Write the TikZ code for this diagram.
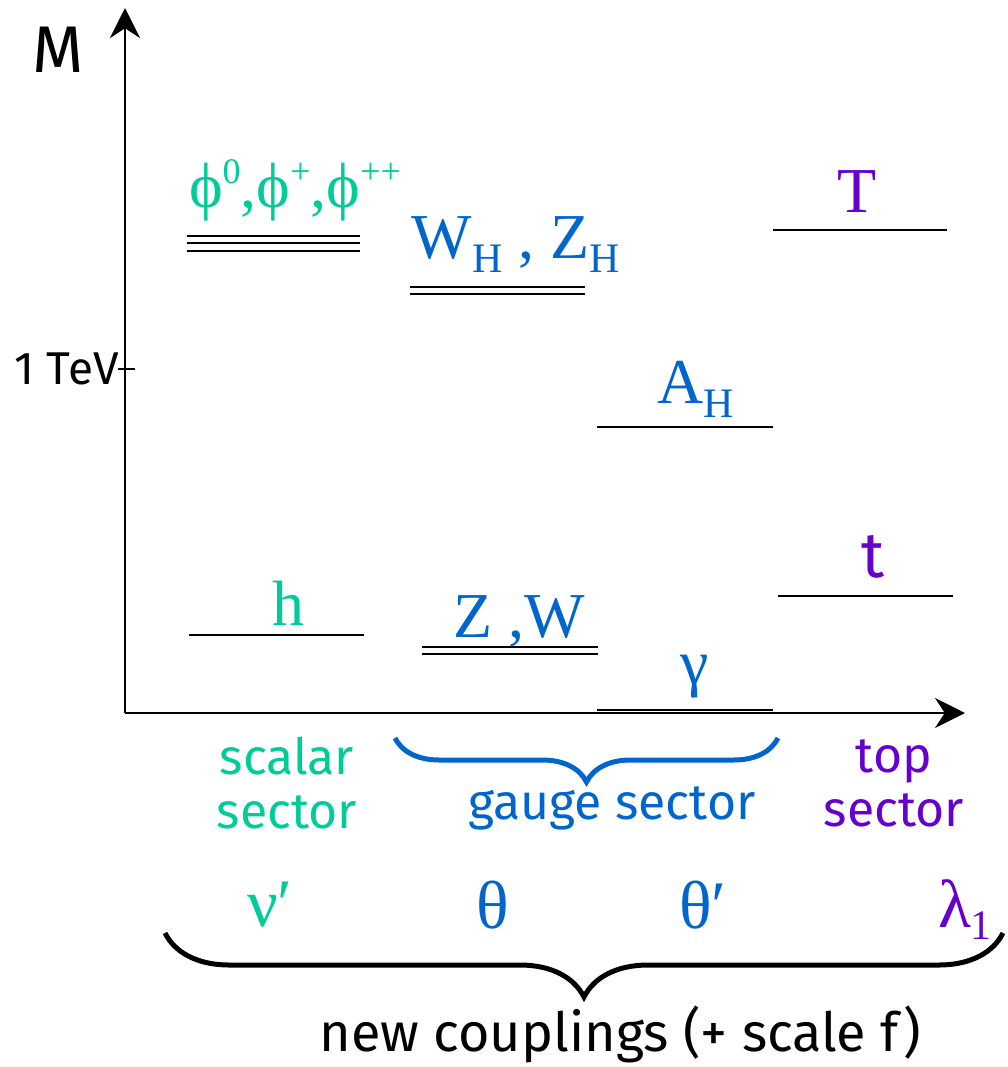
\documentclass[tikz,border=0pt]{standalone}
\usepackage{fontspec}
\setmainfont{Fira Sans}
\newfontfamily\timesfont{Liberation Serif}
\usetikzlibrary{arrows.meta,decorations.pathreplacing}

\definecolor{scalargreen}{RGB}{0,204,153}
\definecolor{gaugeblue}{RGB}{0,102,204}
\definecolor{toppurple}{RGB}{102,0,204}

\newcommand\lowsub[2][7pt]{\raisebox{-#1}{\fontsize{21}{21}\selectfont #2}}
\newcommand\highsup[1]{\raisebox{12pt}{\fontsize{18}{18}\selectfont #1}}

\tikzset{
  level/.style={line width=1pt},
  axis/.style={line width=1pt,-{Stealth[length=15pt,width=15pt]}},
  partlabel/.style={font=\timesfont\fontsize{32}{32}\selectfont,inner sep=0pt,anchor=base},
  sectlabel/.style={font=\fontsize{25}{27}\selectfont,align=center,inner sep=0pt},
  coupling/.style={font=\timesfont\fontsize{34}{34}\selectfont,inner sep=0pt},
  sectbrace/.style={decorate,decoration={brace,mirror,amplitude=#1},line width=2.5pt},
}

\begin{document}
\begin{tikzpicture}[x=0.5pt,y=-0.5pt]
\useasboundingbox (0,0) rectangle (1008,1067);

% axes
\coordinate (O) at (125,713);
\coordinate (ytip) at (125,8);
\coordinate (xtip) at (965,713);
\draw[axis] (O) -- (ytip);
\draw[axis] (O) -- (xtip);
\draw[line width=1pt] (118,369) -- (135,369);
\node[font=\fontsize{33}{33}\selectfont,inner sep=0pt] (mlabel) at (58,50) {M};
\node[font=\fontsize{23}{23}\selectfont,inner sep=0pt,anchor=east] (tev) at (119,369) {1 TeV};

% scalar sector
\draw[level] (187,236) -- (360,236) (187,243) -- (360,243) (187,251) -- (360,251);
\node[partlabel,text=scalargreen,font=\timesfont\fontsize{32}{32}\selectfont] (lblphi) at (295,207)
  {ϕ\highsup{0},ϕ\highsup{+},ϕ\highsup{++}};
\draw[level] (189,635) -- (364,635);
\node[partlabel,text=scalargreen] (lblh) at (288,625) {h};

% gauge sector
\draw[level] (410,287) -- (585,287) (410,294) -- (585,294);
\node[partlabel,text=gaugeblue] (lblWZH) at (516,258) {W\lowsub{H} , Z\lowsub{H}};
\draw[level] (597,427) -- (773,427);
\node[partlabel,text=gaugeblue] (lblAH) at (696,403) {A\lowsub{H}};
\draw[level] (422,647) -- (598,647) (422,654) -- (598,654);
\node[partlabel,text=gaugeblue] (lblZW) at (519,637) {Z ,W};
\draw[level] (597,710) -- (773,710);
\node[partlabel,text=gaugeblue,anchor=center] (lblgamma) at (695,677) {γ};

% top sector
\draw[level] (773,230) -- (947,230);
\node[partlabel,text=toppurple] (lblT) at (857,212) {T};
\draw[level] (778,596) -- (953,596);
\node[partlabel,text=toppurple,font=\fontsize{32}{32}\selectfont] (lblt) at (873,577) {t};

% sector names
\node[sectlabel,text=scalargreen] (scalar) at (287,783) {scalar\\sector};
\draw[sectbrace=22pt,draw=gaugeblue] (395,738) -- (778,738);
\node[sectlabel,text=gaugeblue] (gauge) at (612,808) {gauge sector};
\node[sectlabel,text=toppurple] (top) at (894,783) {top\\sector};

% couplings
\node[coupling,text=scalargreen] (cnu) at (270,905) {ν′};
\node[coupling,text=gaugeblue] (ctheta) at (493,905) {θ};
\node[coupling,text=gaugeblue] (cthetap) at (703,905) {θ′};
\node[coupling,text=toppurple] (clambda) at (965,910) {λ\lowsub[6pt]{1}};
\draw[sectbrace=32pt] (165,933) -- (1003,933);
\node[sectlabel,font=\fontsize{27}{27}\selectfont] (newc) at (620,1034) {new couplings (+ scale f)};
\end{tikzpicture}
\end{document}
